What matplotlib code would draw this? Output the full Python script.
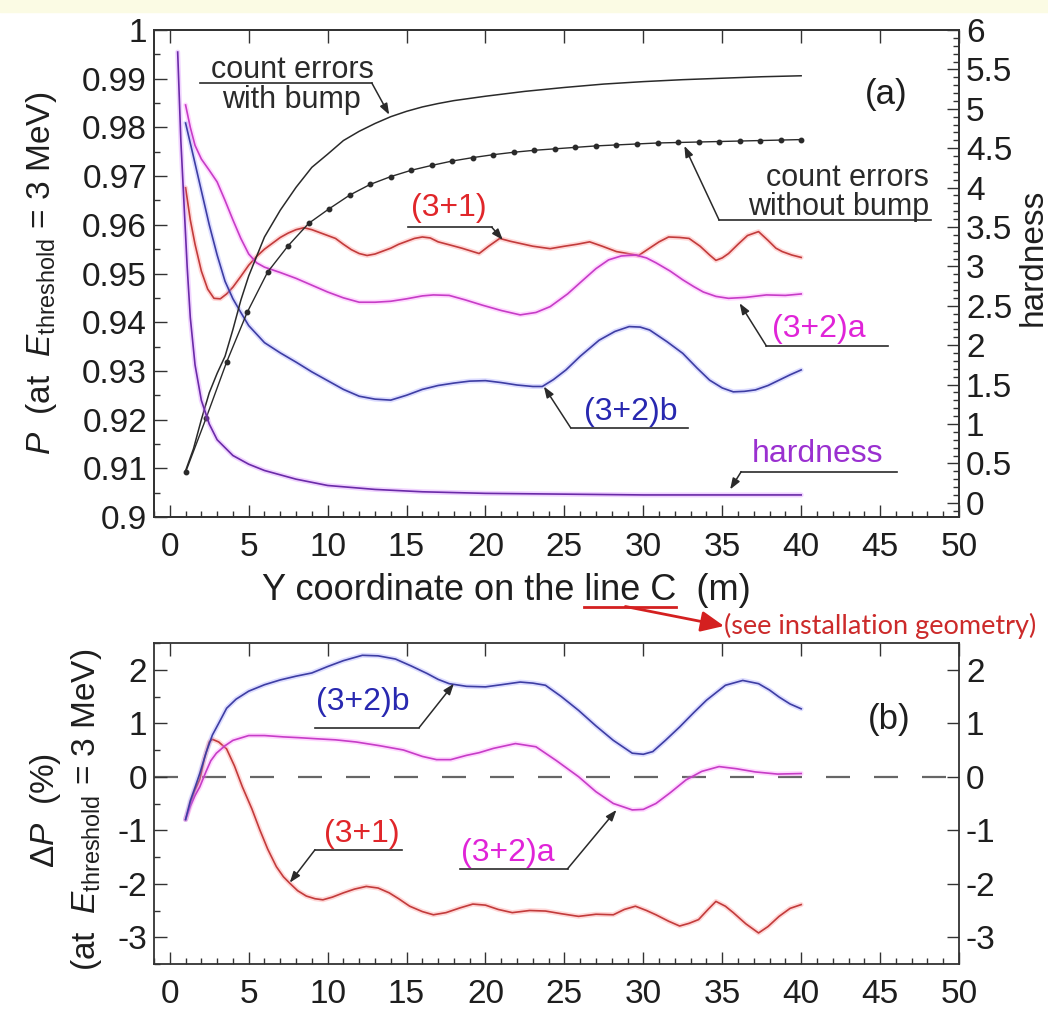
import matplotlib
matplotlib.use('Agg')
import matplotlib.pyplot as plt
from matplotlib.ticker import MultipleLocator, FuncFormatter
from matplotlib.patches import Rectangle

plt.rcParams['font.family'] = ['Liberation Sans', 'DejaVu Sans']
plt.rcParams['mathtext.fontset'] = 'custom'
plt.rcParams['mathtext.rm'] = 'Liberation Sans'
plt.rcParams['mathtext.it'] = 'Liberation Sans:italic'
plt.rcParams['axes.unicode_minus'] = False

# ---- panel (a): P vs Y coordinate ----
x_bump = [1.0, 1.5, 2.0, 2.5, 3.0, 3.5, 4.0, 4.5, 5.0, 6.0, 7.0, 8.0, 9.0, 10.0, 11.0, 12.0, 13.0,
          14.0, 15.0, 16.0, 17.0, 18.0, 20.0, 22.5, 25.0, 27.5, 30.0, 32.5, 35.0, 37.5, 40.0]
p_bump = [0.9095, 0.9140, 0.9200, 0.9255, 0.9295, 0.9330, 0.9385, 0.9445, 0.9495, 0.9575, 0.9630,
          0.9677, 0.9718, 0.9745, 0.9773, 0.9792, 0.9808, 0.9822, 0.9833, 0.9842, 0.9849, 0.9855,
          0.9864, 0.9874, 0.9882, 0.9889, 0.9894, 0.9898, 0.9901, 0.9904, 0.9906]

x_nobump = [1.0, 2.3, 3.6, 4.9, 6.2, 7.5, 8.8, 10.1, 11.4, 12.7, 14.0, 15.3, 16.6, 17.9, 19.2, 20.5,
            21.8, 23.1, 24.4, 25.7, 27.0, 28.3, 29.6, 30.9, 32.2, 33.5, 34.8, 36.1, 37.4, 38.7, 40.0]
p_nobump = [0.9092, 0.9203, 0.9318, 0.9420, 0.9503, 0.9557, 0.9603, 0.9633, 0.9661, 0.9683, 0.9699,
            0.9712, 0.9722, 0.9731, 0.9738, 0.9744, 0.9749, 0.9753, 0.9756, 0.9759, 0.9762, 0.9764,
            0.9766, 0.9768, 0.9769, 0.9770, 0.9771, 0.9772, 0.9773, 0.9774, 0.9775]

x_31 = [1.0, 1.3, 1.6, 2.0, 2.4, 2.8, 3.2, 3.6, 4.0, 4.5, 5.0, 5.5, 6.0, 6.5, 7.0, 7.5, 8.0, 8.5,
        9.0, 9.5, 10.0, 10.5, 11.0, 11.5, 12.0, 12.5, 13.0, 13.5, 14.0, 14.5, 15.0, 15.5, 16.0,
        16.5, 17.0, 17.7, 18.5, 19.0, 19.6, 20.2, 20.9, 21.6, 22.3, 23.0, 24.1, 25.0, 25.8, 26.6,
        27.4, 28.3, 29.0, 29.7, 30.3, 31.0, 31.6, 32.3, 32.9, 33.6, 34.2, 34.6, 35.0, 35.4, 36.0,
        36.6, 37.3, 37.9, 38.4, 38.8, 39.4, 40.0]
p_31 = [0.9676, 0.9610, 0.9560, 0.9505, 0.9468, 0.9449, 0.9448, 0.9458, 0.9472, 0.9494, 0.9517,
        0.9535, 0.9550, 0.9562, 0.9574, 0.9583, 0.9590, 0.9594, 0.9590, 0.9584, 0.9578, 0.9572,
        0.9560, 0.9549, 0.9541, 0.9537, 0.9540, 0.9546, 0.9552, 0.9560, 0.9566, 0.9572, 0.9575,
        0.9573, 0.9565, 0.9559, 0.9552, 0.9547, 0.9541, 0.9556, 0.9572, 0.9566, 0.9561, 0.9556,
        0.9551, 0.9556, 0.9560, 0.9565, 0.9556, 0.9545, 0.9541, 0.9537, 0.9550, 0.9565, 0.9575,
        0.9574, 0.9572, 0.9556, 0.9538, 0.9527, 0.9532, 0.9541, 0.9560, 0.9578, 0.9586, 0.9568,
        0.9552, 0.9545, 0.9538, 0.9533]

x_32a = [1.0, 1.3, 1.6, 2.0, 2.5, 3.0, 3.5, 4.0, 4.5, 5.0, 5.5, 6.0, 7.0, 8.0, 9.0, 10.0, 11.0,
         12.0, 13.0, 14.0, 15.0, 16.0, 16.7, 17.7, 18.7, 19.8, 21.0, 22.2, 23.2, 24.1, 25.2, 26.2,
         27.0, 27.8, 28.6, 29.5, 30.2, 30.8, 31.7, 32.5, 33.2, 33.8, 34.6, 35.4, 36.5, 37.8, 39.0, 40.0]
p_32a = [0.9846, 0.9800, 0.9763, 0.9735, 0.9712, 0.9688, 0.9650, 0.9610, 0.9572, 0.9540, 0.9522,
         0.9513, 0.9502, 0.9490, 0.9476, 0.9462, 0.9450, 0.9441, 0.9441, 0.9443, 0.9448, 0.9454,
         0.9456, 0.9455, 0.9446, 0.9435, 0.9424, 0.9415, 0.9420, 0.9432, 0.9458, 0.9487, 0.9510,
         0.9528, 0.9536, 0.9538, 0.9532, 0.9522, 0.9505, 0.9487, 0.9473, 0.9462, 0.9453, 0.9449,
         0.9451, 0.9456, 0.9455, 0.9458]

x_32b = [1.0, 1.5, 2.0, 2.5, 3.0, 3.5, 4.0, 4.5, 5.0, 6.0, 7.0, 8.0, 9.0, 10.0, 11.0, 12.0, 13.0,
         14.0, 15.0, 16.0, 17.0, 18.0, 19.0, 20.0, 21.0, 22.0, 23.0, 23.6, 24.3, 25.1, 26.0, 27.2,
         28.2, 29.1, 29.8, 30.4, 31.5, 32.5, 33.4, 34.2, 35.0, 35.7, 36.4, 37.1, 37.9, 38.6, 39.3, 40.0]
p_32b = [0.9809, 0.9740, 0.9670, 0.9600, 0.9538, 0.9484, 0.9448, 0.9420, 0.9393, 0.9358, 0.9337,
         0.9318, 0.9298, 0.9280, 0.9262, 0.9248, 0.9242, 0.9240, 0.9250, 0.9262, 0.9270, 0.9275,
         0.9279, 0.9280, 0.9276, 0.9271, 0.9268, 0.9268, 0.9282, 0.9302, 0.9330, 0.9363, 0.9381,
         0.9391, 0.9390, 0.9384, 0.9360, 0.9336, 0.9306, 0.9281, 0.9265, 0.9257, 0.9258, 0.9261,
         0.9270, 0.9281, 0.9292, 0.9302]

x_hard = [0.5, 0.7, 0.9, 1.1, 1.3, 1.6, 2.0, 2.5, 3.0, 4.0, 5.0, 6.0, 8.0, 10.0, 13.0, 16.0, 20.0,
          25.0, 30.0, 35.0, 40.0]
hardness = [5.72, 4.6, 3.8, 3.0, 2.35, 1.75, 1.3, 1.0, 0.8, 0.6, 0.49, 0.41, 0.30, 0.22, 0.17,
            0.14, 0.12, 0.11, 0.10, 0.10, 0.10]

# ---- panel (b): delta P ----
xb_31 = [1.0, 1.3, 1.6, 1.9, 2.2, 2.5, 2.7, 3.1, 3.6, 4.1, 4.6, 5.2, 5.7, 6.2, 6.75, 7.2, 7.6, 8.1,
         8.65, 9.2, 9.7, 10.3, 11.0, 11.7, 12.45, 13.2, 13.9, 14.5, 15.2, 16.0, 16.7, 17.5, 18.4,
         19.2, 20.0, 20.8, 21.7, 22.8, 23.8, 24.8, 25.9, 27.0, 28.1, 28.8, 29.5, 30.2, 30.8, 31.6,
         32.3, 32.9, 33.5, 34.1, 34.6, 35.2, 35.7, 36.5, 37.3, 37.9, 38.6, 39.3, 40.0]
d_31 = [-0.80, -0.50, -0.25, -0.05, 0.35, 0.65, 0.70, 0.65, 0.52, 0.20, -0.19, -0.60, -0.99, -1.35,
        -1.68, -1.87, -1.99, -2.13, -2.23, -2.28, -2.30, -2.25, -2.17, -2.10, -2.05, -2.08, -2.17,
        -2.28, -2.42, -2.52, -2.58, -2.54, -2.45, -2.38, -2.40, -2.48, -2.54, -2.50, -2.51, -2.56,
        -2.61, -2.57, -2.58, -2.48, -2.42, -2.50, -2.58, -2.70, -2.79, -2.74, -2.67, -2.48, -2.33,
        -2.42, -2.54, -2.75, -2.92, -2.80, -2.61, -2.46, -2.39]

xb_32a = [1.0, 1.3, 1.6, 1.9, 2.3, 2.6, 2.95, 3.5, 4.0, 5.0, 6.0, 7.2, 8.2, 9.3, 10.5, 11.8, 13.3,
          14.8, 16.0, 16.9, 17.8, 18.8, 19.6, 20.5, 21.9, 23.2, 24.5, 25.9, 27.0, 28.1, 29.3, 30.0,
          30.8, 31.7, 32.7, 33.7, 34.8, 35.9, 37.1, 38.5, 40.0]
d_32a = [-0.80, -0.55, -0.35, -0.19, 0.10, 0.30, 0.44, 0.58, 0.68, 0.77, 0.77, 0.745, 0.73, 0.71,
         0.69, 0.65, 0.58, 0.50, 0.38, 0.32, 0.32, 0.40, 0.45, 0.53, 0.62, 0.56, 0.30, 0.00, -0.28,
         -0.50, -0.62, -0.61, -0.50, -0.30, -0.06, 0.10, 0.19, 0.15, 0.09, 0.05, 0.06]

xb_32b = [1.0, 1.3, 1.6, 1.9, 2.3, 2.7, 3.1, 3.6, 4.2, 5.0, 6.0, 7.0, 8.0, 9.0, 10.0, 11.0, 12.2,
          13.2, 14.3, 15.3, 16.3, 17.0, 17.7, 18.8, 20.0, 21.0, 22.2, 23.0, 23.8, 24.8, 25.9, 27.0,
          28.1, 29.3, 30.0, 30.6, 31.4, 32.3, 33.2, 34.0, 35.2, 36.3, 37.3, 38.0, 38.6, 39.3, 40.0]
d_32b = [-0.80, -0.45, -0.20, 0.06, 0.45, 0.78, 1.00, 1.28, 1.45, 1.60, 1.72, 1.81, 1.88, 1.94,
         2.06, 2.17, 2.27, 2.26, 2.20, 2.07, 1.93, 1.82, 1.74, 1.69, 1.68, 1.72, 1.77, 1.75, 1.71,
         1.50, 1.24, 0.95, 0.68, 0.44, 0.42, 0.47, 0.68, 0.93, 1.20, 1.43, 1.71, 1.80, 1.74, 1.62,
         1.49, 1.36, 1.27]

RED, RED_G = '#c23b3b', '#ff8080'
MAG, MAG_G = '#c63cc6', '#ff80ff'
BLU, BLU_G = '#3d3da3', '#9090ff'
PUR, PUR_G = '#6a2aa8', '#d070ff'
INK = '#2a2a2a'
FS = 24      # tick labels, axis titles
FA = 23      # one-line callouts
F2 = 22      # two-line callouts

W, H = 1048, 1015
fig = plt.figure(figsize=(W / 100, H / 100), dpi=100)
fig.patches.append(Rectangle((0, 1 - 12 / H), 1, 12 / H, transform=fig.transFigure,
                             color='#fbfbe4', zorder=-5))
ax = fig.add_axes([154 / W, 1 - 517 / H, 805 / W, 487 / H])
axb = fig.add_axes([154 / W, 1 - 964 / H, 805 / W, 321 / H])


def fmt(v, pos):
    if abs(v) < 1e-9:
        v = 0.0
    return f"{v:.3f}".rstrip('0').rstrip('.')


def style(a):
    for s in a.spines.values():
        s.set_color('#333333')
        s.set_linewidth(1.3)
    a.tick_params(which='both', direction='in', color='#333333', width=1.0,
                  labelsize=FS, labelcolor='#1e1e1e')
    a.tick_params(which='major', length=9)
    a.tick_params(which='minor', length=4.5)


def glow(a, x, y, c, g):
    a.plot(x, y, color=g, lw=3.6, alpha=0.3, solid_capstyle='round')
    a.plot(x, y, color=c, lw=1.2)


def callout(a, tip, y_ul, x0, x1, from_left=True, ul_color=INK):
    a.plot([x0, x1], [y_ul, y_ul], color=ul_color, lw=1.2, clip_on=False)
    start = (x0, y_ul) if from_left else (x1, y_ul)
    a.annotate('', xy=tip, xytext=start,
               arrowprops=dict(arrowstyle='-|>,head_length=0.55,head_width=0.2',
                               color=INK, lw=1.1, shrinkA=0, shrinkB=0, mutation_scale=12))


# ----- panel (a) -----
ax2 = ax.twinx()
ax2.set_position(ax.get_position())
glow(ax2, x_hard, hardness, PUR, PUR_G)
glow(ax, x_31, p_31, RED, RED_G)
glow(ax, x_32a, p_32a, MAG, MAG_G)
glow(ax, x_32b, p_32b, BLU, BLU_G)
ax.plot(x_bump, p_bump, color=INK, lw=1.1)
ax.plot(x_nobump, p_nobump, color=INK, lw=1.0, marker='o', ms=3.2)

ax.set_xlim(-1, 50)
ax.set_ylim(0.9, 1.0)
ax2.set_ylim(-0.18, 6)
ax.xaxis.set_major_locator(MultipleLocator(5))
ax.xaxis.set_minor_locator(MultipleLocator(1))
ax.yaxis.set_major_locator(MultipleLocator(0.01))
ax.yaxis.set_minor_locator(MultipleLocator(0.005))
ax2.yaxis.set_major_locator(MultipleLocator(0.5))
ax2.yaxis.set_minor_locator(MultipleLocator(0.1))
for a in (ax, ax2):
    style(a)
    a.yaxis.set_major_formatter(FuncFormatter(fmt))
ax.tick_params(top=True, right=False, pad=11)
ax.tick_params(axis='y', pad=5)
ax2.tick_params(axis='y', pad=5)

ax.text(7.8, 0.99014, 'count errors', ha='center', va='baseline', fontsize=F2, color=INK)
ax.text(7.7, 0.98398, 'with bump', ha='center', va='baseline', fontsize=F2, color=INK)
callout(ax, (13.9, 0.9826), 0.98912, 1.9, 12.8, from_left=False)

ax.text(48.1, 0.96797, 'count errors', ha='right', va='baseline', fontsize=F2, color=INK)
ax.text(48.1, 0.96201, 'without bump', ha='right', va='baseline', fontsize=F2, color=INK)
callout(ax, (32.6, 0.9762), 0.96099, 34.8, 48.2)

ax.text(17.7, 0.9618, '(3+1)', ha='center', va='baseline', fontsize=FA, color='#e0262a')
callout(ax, (21.1, 0.9569), 0.9595, 15.1, 20.4, from_left=False)

ax.text(41.1, 0.9370, '(3+2)a', ha='center', va='baseline', fontsize=FA, color='#e024d8')
callout(ax, (36.1, 0.9439), 0.9351, 37.8, 45.5)

ax.text(29.2, 0.9199, '(3+2)b', ha='center', va='baseline', fontsize=FA, color='#2828b0')
callout(ax, (23.7, 0.9268), 0.9183, 25.4, 32.8)

ax2.text(41.05, 0.52, 'hardness', ha='center', va='baseline', fontsize=FA, color='#9a30d0')
callout(ax2, (35.5, 0.17), 0.395, 36.2, 46.1)

ax.text(45.4, 0.9867, '(a)', ha='center', va='center', fontsize=25, color='#1e1e1e')

# ----- panel (b) -----
axb.axhline(0, color='#666666', lw=1.6, dashes=(10.8, 10.8), zorder=1)
glow(axb, xb_31, d_31, RED, RED_G)
glow(axb, xb_32a, d_32a, MAG, MAG_G)
glow(axb, xb_32b, d_32b, BLU, BLU_G)
axb.set_xlim(-1, 50)
axb.set_ylim(-3.5, 2.5)
axb.xaxis.set_major_locator(MultipleLocator(5))
axb.xaxis.set_minor_locator(MultipleLocator(1))
axb.yaxis.set_major_locator(MultipleLocator(1))
axb.yaxis.set_minor_locator(MultipleLocator(0.5))
axb.yaxis.set_major_formatter(FuncFormatter(fmt))
style(axb)
axb.tick_params(top=True, right=True, labelright=True, pad=11)
axb.tick_params(axis='y', pad=5)

axb.text(12.2, 1.24, '(3+2)b', ha='center', va='baseline', fontsize=FA, color='#2828b0')
callout(axb, (18.0, 1.74), 0.92, 9.2, 15.8, from_left=False)
axb.text(12.15, -1.22, '(3+1)', ha='center', va='baseline', fontsize=FA, color='#e0262a')
callout(axb, (7.6, -1.98), -1.365, 9.2, 14.7)
axb.text(21.4, -1.57, '(3+2)a', ha='center', va='baseline', fontsize=FA, color='#e024d8')
callout(axb, (28.3, -0.62), -1.72, 18.4, 25.2, from_left=False)
axb.text(45.6, 1.07, '(b)', ha='center', va='center', fontsize=25, color='#1e1e1e')

# ----- axis titles -----
fig.text(42 / W, 1 - 273 / H, r'$P$  (at  $E_{\mathrm{threshold}}$ = 3 MeV)', rotation=90,
         ha='center', va='center', fontsize=FS, color='#1e1e1e')
fig.text(66 / W, 1 - 810 / H, '$\\Delta P$  (%)\n(at  $E_{\\mathrm{threshold}}$ = 3 MeV)',
         rotation=90, ha='center', va='center', multialignment='center', fontsize=FS,
         color='#1e1e1e')
fig.text(1033 / W, 1 - 257 / H, 'hardness', rotation=90, ha='center', va='center',
         fontsize=FS, color='#1e1e1e')

XL = 'Y coordinate on the line C  (m)'
XFS = 26
xl = fig.text(506 / W, 1 - 590 / H, XL, ha='center', va='center', fontsize=XFS, color='#1e1e1e')
r = fig.canvas.get_renderer()
bb = xl.get_window_extent(r)


def text_w(s):
    t = fig.text(0, 0, s, fontsize=XFS)
    w = t.get_window_extent(r).width
    t.remove()
    return w


lc_end = bb.x0 + text_w('Y coordinate on the line C')
lc_start = lc_end - text_w('line C')
ul_y = bb.y0 + 1
fig.add_artist(plt.Line2D([lc_start / W, lc_end / W], [ul_y / H, ul_y / H], color='#d42020', lw=2.0))

note_x, note_y = 724, H - 626
fig.text(note_x / W, note_y / H, '(see installation geometry)', ha='left', va='center',
         fontsize=19.5, family='Lato', color='#cc2a2a')
ax.annotate('', xy=(note_x, note_y), xycoords='figure pixels',
            xytext=(lc_start + 0.45 * (lc_end - lc_start), ul_y), textcoords='figure pixels',
            arrowprops=dict(arrowstyle='-|>,head_length=1.0,head_width=0.45', color='#d42020',
                            lw=2.0, shrinkA=0, shrinkB=0, mutation_scale=14),
            annotation_clip=False)

fig.savefig('out.png', dpi=100)
